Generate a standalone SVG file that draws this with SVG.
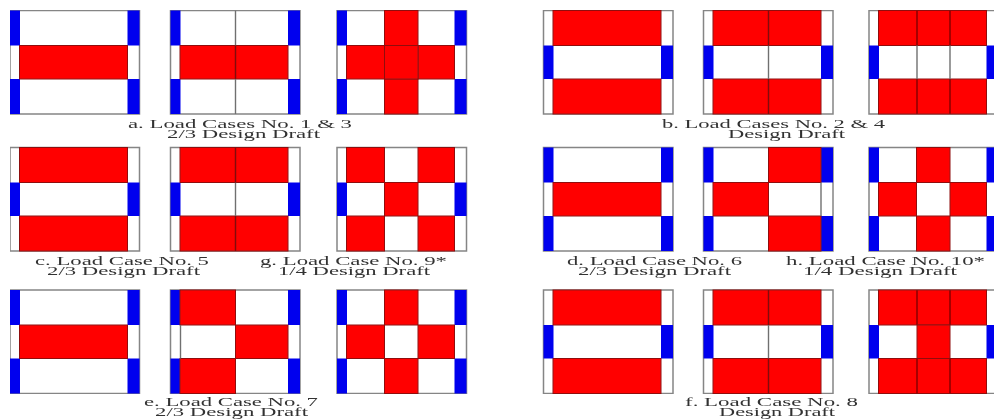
<svg xmlns="http://www.w3.org/2000/svg" xmlns:xlink="http://www.w3.org/1999/xlink" width="994" height="419" viewBox="0 0 994 419">
<style>
.f{fill:#fff;stroke:#858585;stroke-width:1.5}
.b{fill:#0000ee}
.r{fill:#ff0000;stroke:#901010;stroke-width:1}
.d{stroke:#707070;stroke-width:1.4;fill:none}
.e{stroke:#800808;stroke-width:1.4;fill:none}
text{font-family:"Liberation Serif","Times New Roman",serif;font-size:11.5px;fill:#333;text-anchor:start}
</style>
<defs>
<filter id="soft" x="0" y="0" width="100%" height="100%"><feGaussianBlur stdDeviation="0.45"/></filter>
<filter id="softT" x="-5%" y="-20%" width="110%" height="140%"><feGaussianBlur stdDeviation="0.4"/></filter>
<rect id="frame" class="f" x="0" y="0" width="129.5" height="103.5"/>
<g id="blueOuter"><rect class="b" x="0" y="0" width="10" height="35"/><rect class="b" x="117.5" y="0" width="12" height="35"/><rect class="b" x="0" y="68.5" width="10" height="35"/><rect class="b" x="117.5" y="68.5" width="12" height="35"/></g>
<g id="blueMid"><rect class="b" x="0" y="35" width="10" height="33.5"/><rect class="b" x="117.5" y="35" width="12" height="33.5"/></g>
<g id="case-full-mid"><use xlink:href="#frame" href="#frame"/><use href="#blueOuter" xlink:href="#blueOuter"/><rect class="r" x="9.5" y="35" width="108" height="33.5"/></g>
<g id="case-full-tb"><use href="#frame" xlink:href="#frame"/><use href="#blueMid" xlink:href="#blueMid"/><rect class="r" x="9.5" y="0" width="108" height="35"/><rect class="r" x="9.5" y="68.5" width="108" height="35"/></g>
<g id="case-two-tb"><use href="#case-full-tb" xlink:href="#case-full-tb"/><line class="d" x1="65" y1="35" x2="65" y2="68.5"/><line class="e" x1="65" y1="0" x2="65" y2="35"/><line class="e" x1="65" y1="68.5" x2="65" y2="103.5"/></g>
<g id="case-h"><use href="#frame" xlink:href="#frame"/><use href="#blueOuter" xlink:href="#blueOuter"/><rect class="r" x="47.5" y="0" width="33.5" height="35"/><rect class="r" x="9.5" y="35" width="38" height="33.5"/><rect class="r" x="81" y="35" width="36.5" height="33.5"/><rect class="r" x="47.5" y="68.5" width="33.5" height="35"/></g>
</defs>
<rect x="0" y="0" width="994" height="419" fill="#fff"/>
<g id="diagram" filter="url(#soft)">
<g id="panel-a1" transform="translate(10,10.5)"><use href="#case-full-mid" xlink:href="#case-full-mid"/></g>
<g id="panel-a2" transform="translate(170.5,10.5)"><use href="#case-full-mid" xlink:href="#case-full-mid"/><line class="d" x1="65" y1="0" x2="65" y2="35"/><line class="e" x1="65" y1="35" x2="65" y2="68.5"/><line class="d" x1="65" y1="68.5" x2="65" y2="103.5"/></g>
<g id="panel-a3" transform="translate(337,10.5)"><use href="#case-h" xlink:href="#case-h"/><rect class="r" x="47.5" y="35" width="33.5" height="33.5"/></g>
<g id="panel-b1" transform="translate(543.5,10.5)"><use href="#case-full-tb" xlink:href="#case-full-tb"/></g>
<g id="panel-b2" transform="translate(703.5,10.5)"><use href="#case-two-tb" xlink:href="#case-two-tb"/></g>
<g id="panel-b3" transform="translate(869,10.5)"><use href="#case-full-tb" xlink:href="#case-full-tb"/><line class="e" x1="48" y1="0" x2="48" y2="35"/><line class="e" x1="81" y1="0" x2="81" y2="35"/><line class="d" x1="48" y1="35" x2="48" y2="68.5"/><line class="d" x1="81" y1="35" x2="81" y2="68.5"/><line class="e" x1="48" y1="68.5" x2="48" y2="103.5"/><line class="e" x1="81" y1="68.5" x2="81" y2="103.5"/></g>

<g id="panel-c1" transform="translate(10,147.5)"><use href="#case-full-tb" xlink:href="#case-full-tb"/></g>
<g id="panel-c2" transform="translate(170.5,147.5)"><use href="#case-two-tb" xlink:href="#case-two-tb"/></g>
<g id="panel-g" transform="translate(337,147.5)"><use href="#frame" xlink:href="#frame"/><use href="#blueMid" xlink:href="#blueMid"/><rect class="r" x="9.5" y="0" width="38" height="35"/><rect class="r" x="81" y="0" width="36.5" height="35"/><rect class="r" x="47.5" y="35" width="33.5" height="33.5"/><rect class="r" x="9.5" y="68.5" width="38" height="35"/><rect class="r" x="81" y="68.5" width="36.5" height="35"/></g>
<g id="panel-d1" transform="translate(543.5,147.5)"><use href="#case-full-mid" xlink:href="#case-full-mid"/></g>
<g id="panel-d2" transform="translate(703.5,147.5)"><use href="#frame" xlink:href="#frame"/><use href="#blueOuter" xlink:href="#blueOuter"/><rect class="r" x="65" y="0" width="52.5" height="35"/><rect class="r" x="9.5" y="35" width="55.5" height="33.5"/><rect class="r" x="65" y="68.5" width="52.5" height="35"/><line class="d" x1="117.5" y1="35" x2="117.5" y2="68.5"/></g>
<g id="panel-h" transform="translate(869,147.5)"><use href="#case-h" xlink:href="#case-h"/></g>

<g id="panel-e1" transform="translate(10,290)"><use href="#case-full-mid" xlink:href="#case-full-mid"/></g>
<g id="panel-e2" transform="translate(170.5,290)"><use href="#frame" xlink:href="#frame"/><use href="#blueOuter" xlink:href="#blueOuter"/><rect class="r" x="9.5" y="0" width="55.5" height="35"/><rect class="r" x="65" y="35" width="52.5" height="33.5"/><rect class="r" x="9.5" y="68.5" width="55.5" height="35"/><line class="d" x1="10" y1="35" x2="10" y2="68.5"/></g>
<g id="panel-e3" transform="translate(337,290)"><use href="#case-h" xlink:href="#case-h"/></g>
<g id="panel-f1" transform="translate(543.5,290)"><use href="#case-full-tb" xlink:href="#case-full-tb"/></g>
<g id="panel-f2" transform="translate(703.5,290)"><use href="#case-two-tb" xlink:href="#case-two-tb"/></g>
<g id="panel-f3" transform="translate(869,290)"><use href="#case-full-tb" xlink:href="#case-full-tb"/><rect class="r" x="48" y="35" width="33" height="33.5"/><line class="e" x1="48" y1="0" x2="48" y2="35"/><line class="e" x1="81" y1="0" x2="81" y2="35"/><line class="e" x1="48" y1="68.5" x2="48" y2="103.5"/><line class="e" x1="81" y1="68.5" x2="81" y2="103.5"/></g>
</g>
<g id="labels" filter="url(#softT)">
<text x="128" y="127.5" textLength="224" lengthAdjust="spacingAndGlyphs">a. Load Cases No. 1 &amp; 3</text>
<text x="167" y="138" textLength="153" lengthAdjust="spacingAndGlyphs">2/3 Design Draft</text>
<text x="662" y="127.5" textLength="223" lengthAdjust="spacingAndGlyphs">b. Load Cases No. 2 &amp; 4</text>
<text x="728" y="138" textLength="117" lengthAdjust="spacingAndGlyphs">Design Draft</text>
<text x="35" y="264.5" textLength="174" lengthAdjust="spacingAndGlyphs">c. Load Case No. 5</text>
<text x="47" y="275" textLength="153" lengthAdjust="spacingAndGlyphs">2/3 Design Draft</text>
<text x="260" y="264.5" textLength="187" lengthAdjust="spacingAndGlyphs">g. Load Case No. 9*</text>
<text x="278" y="275" textLength="152" lengthAdjust="spacingAndGlyphs">1/4 Design Draft</text>
<text x="567" y="264.5" textLength="175" lengthAdjust="spacingAndGlyphs">d. Load Case No. 6</text>
<text x="578" y="275" textLength="153" lengthAdjust="spacingAndGlyphs">2/3 Design Draft</text>
<text x="786" y="264.5" textLength="199" lengthAdjust="spacingAndGlyphs">h. Load Case No. 10*</text>
<text x="803" y="275" textLength="154" lengthAdjust="spacingAndGlyphs">1/4 Design Draft</text>
<text x="144" y="405.5" textLength="174" lengthAdjust="spacingAndGlyphs">e. Load Case No. 7</text>
<text x="155" y="416" textLength="153" lengthAdjust="spacingAndGlyphs">2/3 Design Draft</text>
<text x="685" y="405.5" textLength="173" lengthAdjust="spacingAndGlyphs">f. Load Case No. 8</text>
<text x="719" y="416" textLength="116" lengthAdjust="spacingAndGlyphs">Design Draft</text>
</g>
</svg>
